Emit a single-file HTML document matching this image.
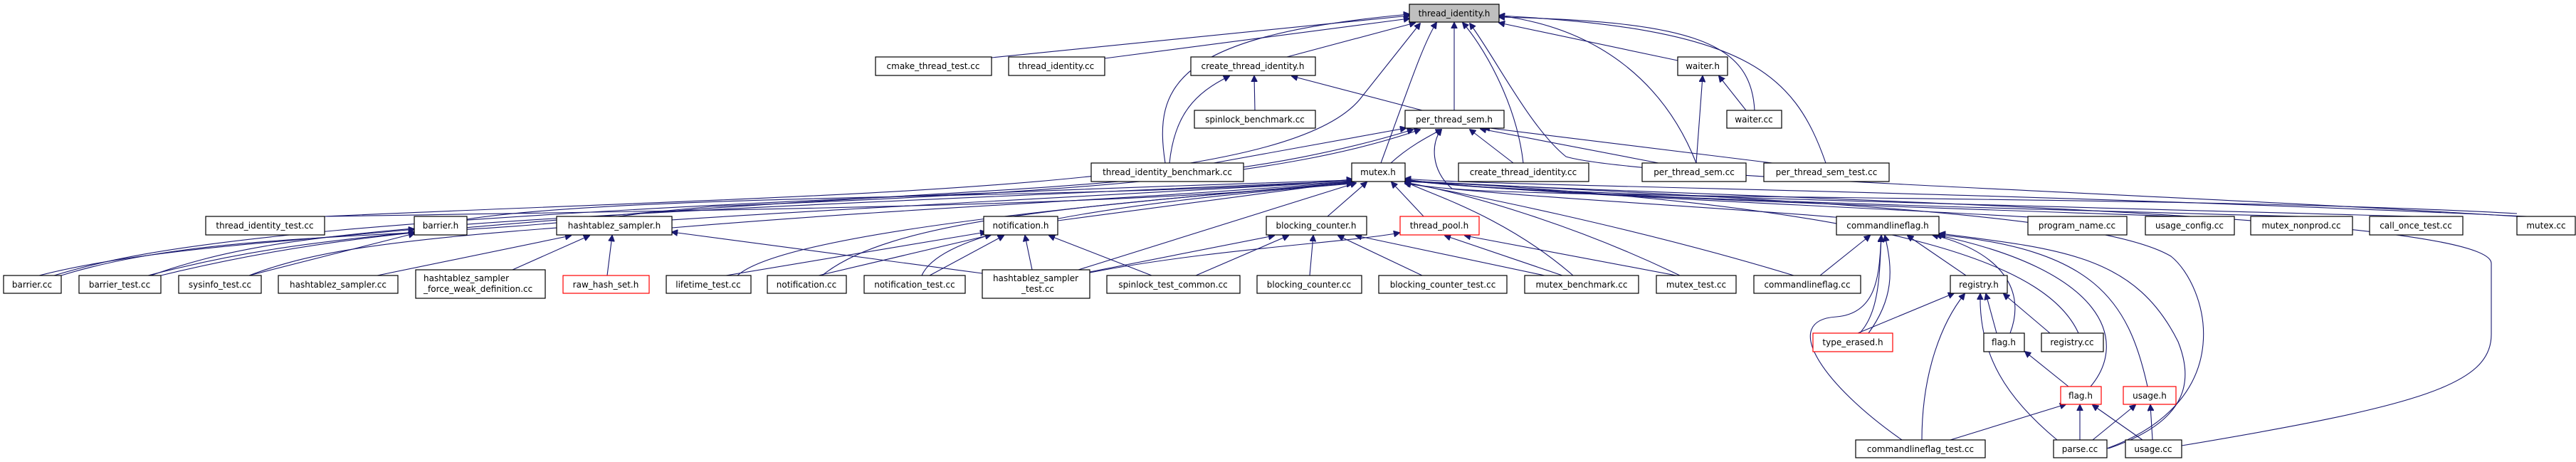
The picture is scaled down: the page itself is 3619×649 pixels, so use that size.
<!DOCTYPE html>
<html><head><meta charset="utf-8"><style>
html,body{margin:0;padding:0;background:#fff;}
svg{display:block}
text{font-family:"DejaVu Sans","Liberation Sans",sans-serif;font-size:12px;fill:#000}
.n{fill:#fff;stroke:#000;stroke-width:1.2}
.r{fill:#fff;stroke:#f00;stroke-width:1.2}
.e{fill:none;stroke:#191970;stroke-width:1.1}
</style></head><body>
<svg width="3619" height="649" viewBox="0 0 3619 649" xmlns="http://www.w3.org/2000/svg">
<defs><marker id="a" viewBox="0 0 10 10" refX="9" refY="5" markerWidth="9" markerHeight="9" orient="auto" markerUnits="userSpaceOnUse"><path d="M0,0 L10,5 L0,10 z" fill="#191970" stroke="#191970"/></marker></defs>
<g class="e" marker-end="url(#a)">
<!-- to thread_identity.h -->
<path d="M1393,81 L1980,22"/>
<path d="M1552,82 L1980,26"/>
<path d="M1808,80 L1988,32"/>
<path d="M1637,229 C1620,120 1650,50 1980,20"/>
<path d="M2043,155 L2043,32"/>
<path d="M1940,229 C1980,120 2000,60 2018,32"/>
<path d="M2140,229 C2130,140 2080,60 2055,32"/>
<path d="M2383,229 C2340,120 2250,40 2106,22"/>
<path d="M2565,229 C2520,100 2450,40 2106,22"/>
<path d="M2357,85 L2106,32"/>
<path d="M2465,155 C2460,60 2380,30 2106,24"/>
<path d="M456,304 C1200,270 1800,270 1910,140 L1995,33"/>
<path d="M3536,304 C3000,270 2300,250 2200,220 C2150,180 2100,80 2065,33"/>
<!-- to create_thread_identity.h -->
<path d="M1763,155 L1762,107"/>
<path d="M1643,229 C1650,160 1680,130 1727,107"/>
<path d="M1998,155 L1815,107"/>
<!-- to per_thread_sem.h -->
<path d="M1705,229 L1975,180"/>
<path d="M1954,229 C1980,205 2010,190 2025,182"/>
<path d="M2126,229 L2065,182"/>
<path d="M2330,229 L2080,181"/>
<path d="M2490,229 L2085,179"/>
<path d="M86,387 C300,320 600,340 900,300 C1400,260 1700,270 1985,182"/>
<path d="M226,387 C500,320 700,320 1000,290 C1500,270 1800,250 1995,182"/>
<path d="M3536,300 C3100,275 2200,280 2040,265 C2010,240 2010,200 2025,182"/>
<!-- waiter.h -->
<path d="M2383,229 L2392,107"/>
<path d="M2453,155 L2415,107"/>
<!-- barrier.h -->
<path d="M55,387 C200,350 400,340 582,322"/>
<path d="M208,387 C350,350 450,340 582,326"/>
<path d="M350,387 L582,328"/>
<!-- hashtablez_sampler.h -->
<path d="M530,387 L802,331"/>
<path d="M720,379 L828,331"/>
<path d="M853,387 L860,331"/>
<path d="M1380,384 L944,326"/>
<!-- notification.h -->
<path d="M1020,387 L1385,326"/>
<path d="M1150,387 L1392,330"/>
<path d="M1306,387 L1410,331"/>
<path d="M1450,379 L1440,331"/>
<path d="M1618,387 L1474,331"/>
<!-- blocking_counter.h -->
<path d="M1531,382 L1790,331"/>
<path d="M1680,387 L1810,331"/>
<path d="M1840,387 L1845,331"/>
<path d="M1998,387 L1880,331"/>
<path d="M2170,387 L1905,331"/>
<!-- thread_pool.h -->
<path d="M1531,383 C1700,350 1900,340 1966,327"/>
<path d="M2195,387 L2030,331"/>
<path d="M2355,387 L2058,331"/>
<!-- mutex.h -->
<path d="M1486,310 L1900,255"/>
<path d="M1865,304 L1920,256"/>
<path d="M2000,304 L1955,256"/>
<path d="M1515,379 L1905,257"/>
<path d="M656,308 C900,270 1600,280 1900,252"/>
<path d="M944,320 C1300,290 1600,280 1900,255"/>
<path d="M456,304 C1000,295 1600,290 1900,256"/>
<path d="M76,387 C200,350 400,300 1900,253"/>
<path d="M212,387 C400,320 600,310 1900,254"/>
<path d="M350,387 C500,330 700,320 1900,255"/>
<path d="M1036,387 C1100,330 1500,290 1900,256"/>
<path d="M1155,387 C1250,310 1500,290 1900,257"/>
<path d="M1295,387 C1320,330 1500,290 1900,258"/>
<path d="M2210,387 C2110,300 2000,270 1974,255"/>
<path d="M2360,387 C2200,310 2050,270 1974,256"/>
<path d="M2520,387 C2300,320 2050,270 1974,257"/>
<path d="M2590,306 C2400,290 2100,275 1974,258"/>
<path d="M2870,306 C2500,285 2100,270 1974,252"/>
<path d="M3060,304 C2500,285 2100,270 1974,252"/>
<path d="M3230,304 C2500,285 2100,270 1974,253"/>
<path d="M3390,304 C2500,280 2100,270 1974,253"/>
<path d="M3550,304 C2700,265 2100,262 1974,251"/>
<path d="M2920,468 C2880,380 2700,290 1974,254"/>
<path d="M2960,630 C3150,560 3100,400 3050,360 C2950,300 2500,280 1974,254"/>
<path d="M3065,626 C3400,570 3500,540 3500,470 L3500,370 C3500,300 2500,280 1974,255"/>
<!-- commandlineflag.h -->
<path d="M2557,387 L2627,331"/>
<path d="M2762,387 L2680,331"/>
<path d="M2625,468 C2660,420 2660,380 2648,331"/>
<path d="M2590,485 C2640,460 2640,400 2643,331"/>
<path d="M2672,618 C2560,540 2500,450 2580,445 C2640,440 2640,380 2643,332"/>
<path d="M2824,468 C2850,400 2800,350 2715,330"/>
<path d="M2937,543 C2990,480 2960,380 2720,330"/>
<path d="M3017,543 C2990,420 2940,350 2725,330"/>
<path d="M2962,630 C3080,590 3080,530 3060,480 C3000,360 2900,350 2725,328"/>
<!-- registry.h -->
<path d="M2610,468 L2745,412"/>
<path d="M2700,618 C2700,520 2730,450 2760,413"/>
<path d="M2890,618 C2820,560 2780,500 2782,413"/>
<path d="M2805,468 L2790,413"/>
<path d="M2880,468 L2815,413"/>
<!-- flag.h black -->
<path d="M2906,543 L2845,494"/>
<!-- flag.h red -->
<path d="M2740,618 L2902,568"/>
<path d="M2922,618 L2922,569"/>
<path d="M3010,618 L2940,569"/>
<!-- usage.h -->
<path d="M2940,618 L3000,569"/>
<path d="M3024,618 L3021,569"/>
</g>
<g>
<rect x="1980" y="6" width="126" height="25" fill="#bfbfbf" stroke="#000" stroke-width="1.2"/><text x="2043" y="23" text-anchor="middle">thread_identity.h</text>
<rect class="n" x="1230" y="80" width="163" height="26"/><text x="1311" y="97" text-anchor="middle">cmake_thread_test.cc</text>
<rect class="n" x="1417" y="80" width="135" height="26"/><text x="1484" y="97" text-anchor="middle">thread_identity.cc</text>
<rect class="n" x="1673" y="80" width="175" height="26"/><text x="1760" y="97" text-anchor="middle">create_thread_identity.h</text>
<rect class="n" x="2357" y="80" width="70" height="26"/><text x="2392" y="97" text-anchor="middle">waiter.h</text>
<rect class="n" x="1678" y="155" width="170" height="25"/><text x="1763" y="172" text-anchor="middle">spinlock_benchmark.cc</text>
<rect class="n" x="1974" y="155" width="139" height="25"/><text x="2043" y="172" text-anchor="middle">per_thread_sem.h</text>
<rect class="n" x="2426" y="155" width="77" height="25"/><text x="2464" y="172" text-anchor="middle">waiter.cc</text>
<rect class="n" x="1533" y="229" width="214" height="26"/><text x="1640" y="246" text-anchor="middle">thread_identity_benchmark.cc</text>
<rect class="n" x="1899" y="229" width="75" height="26"/><text x="1936" y="246" text-anchor="middle">mutex.h</text>
<rect class="n" x="2049" y="229" width="183" height="26"/><text x="2140" y="246" text-anchor="middle">create_thread_identity.cc</text>
<rect class="n" x="2307" y="229" width="146" height="26"/><text x="2380" y="246" text-anchor="middle">per_thread_sem.cc</text>
<rect class="n" x="2478" y="229" width="176" height="26"/><text x="2566" y="246" text-anchor="middle">per_thread_sem_test.cc</text>
<rect class="n" x="289" y="304" width="167" height="26"/><text x="372" y="321" text-anchor="middle">thread_identity_test.cc</text>
<rect class="n" x="582" y="304" width="74" height="26"/><text x="619" y="321" text-anchor="middle">barrier.h</text>
<rect class="n" x="782" y="304" width="162" height="26"/><text x="863" y="321" text-anchor="middle">hashtablez_sampler.h</text>
<rect class="n" x="1382" y="304" width="104" height="26"/><text x="1434" y="321" text-anchor="middle">notification.h</text>
<rect class="n" x="1779" y="304" width="141" height="26"/><text x="1849" y="321" text-anchor="middle">blocking_counter.h</text>
<rect class="r" x="1967" y="304" width="111" height="26"/><text x="2022" y="321" text-anchor="middle">thread_pool.h</text>
<rect class="n" x="2580" y="304" width="144" height="26"/><text x="2652" y="321" text-anchor="middle">commandlineflag.h</text>
<rect class="n" x="2849" y="304" width="139" height="26"/><text x="2918" y="321" text-anchor="middle">program_name.cc</text>
<rect class="n" x="3014" y="304" width="125" height="26"/><text x="3076" y="321" text-anchor="middle">usage_config.cc</text>
<rect class="n" x="3162" y="304" width="143" height="26"/><text x="3233" y="321" text-anchor="middle">mutex_nonprod.cc</text>
<rect class="n" x="3329" y="304" width="131" height="26"/><text x="3394" y="321" text-anchor="middle">call_once_test.cc</text>
<rect class="n" x="3536" y="304" width="82" height="26"/><text x="3577" y="321" text-anchor="middle">mutex.cc</text>
<rect class="n" x="5" y="387" width="81" height="25"/><text x="45" y="404" text-anchor="middle">barrier.cc</text>
<rect class="n" x="111" y="387" width="115" height="25"/><text x="168" y="404" text-anchor="middle">barrier_test.cc</text>
<rect class="n" x="251" y="387" width="116" height="25"/><text x="309" y="404" text-anchor="middle">sysinfo_test.cc</text>
<rect class="n" x="391" y="387" width="168" height="25"/><text x="475" y="404" text-anchor="middle">hashtablez_sampler.cc</text>
<rect class="n" x="584" y="379" width="182" height="40"/><text x="595" y="395">hashtablez_sampler</text><text x="595" y="410">_force_weak_definition.cc</text>
<rect class="r" x="791" y="387" width="121" height="25"/><text x="851" y="404" text-anchor="middle">raw_hash_set.h</text>
<rect class="n" x="936" y="387" width="119" height="25"/><text x="995" y="404" text-anchor="middle">lifetime_test.cc</text>
<rect class="n" x="1078" y="387" width="111" height="25"/><text x="1133" y="404" text-anchor="middle">notification.cc</text>
<rect class="n" x="1214" y="387" width="142" height="25"/><text x="1285" y="404" text-anchor="middle">notification_test.cc</text>
<rect class="n" x="1380" y="379" width="151" height="40"/><text x="1455" y="395" text-anchor="middle">hashtablez_sampler</text><text x="1458" y="410" text-anchor="middle">_test.cc</text>
<rect class="n" x="1555" y="387" width="187" height="25"/><text x="1648" y="404" text-anchor="middle">spinlock_test_common.cc</text>
<rect class="n" x="1766" y="387" width="147" height="25"/><text x="1839" y="404" text-anchor="middle">blocking_counter.cc</text>
<rect class="n" x="1937" y="387" width="180" height="25"/><text x="2027" y="404" text-anchor="middle">blocking_counter_test.cc</text>
<rect class="n" x="2142" y="387" width="160" height="25"/><text x="2222" y="404" text-anchor="middle">mutex_benchmark.cc</text>
<rect class="n" x="2327" y="387" width="112" height="25"/><text x="2383" y="404" text-anchor="middle">mutex_test.cc</text>
<rect class="n" x="2464" y="387" width="150" height="25"/><text x="2539" y="404" text-anchor="middle">commandlineflag.cc</text>
<rect class="n" x="2740" y="387" width="80" height="25"/><text x="2780" y="404" text-anchor="middle">registry.h</text>
<rect class="r" x="2547" y="468" width="112" height="26"/><text x="2603" y="485" text-anchor="middle">type_erased.h</text>
<rect class="n" x="2787" y="468" width="57" height="26"/><text x="2815" y="485" text-anchor="middle">flag.h</text>
<rect class="n" x="2868" y="468" width="87" height="26"/><text x="2911" y="485" text-anchor="middle">registry.cc</text>
<rect class="r" x="2895" y="543" width="57" height="25"/><text x="2923" y="560" text-anchor="middle">flag.h</text>
<rect class="r" x="2983" y="543" width="74" height="25"/><text x="3020" y="560" text-anchor="middle">usage.h</text>
<rect class="n" x="2607" y="618" width="182" height="25"/><text x="2698" y="635" text-anchor="middle">commandlineflag_test.cc</text>
<rect class="n" x="2885" y="618" width="75" height="25"/><text x="2922" y="635" text-anchor="middle">parse.cc</text>
<rect class="n" x="2986" y="618" width="79" height="25"/><text x="3025" y="635" text-anchor="middle">usage.cc</text>
</g>
</svg>
</body></html>
